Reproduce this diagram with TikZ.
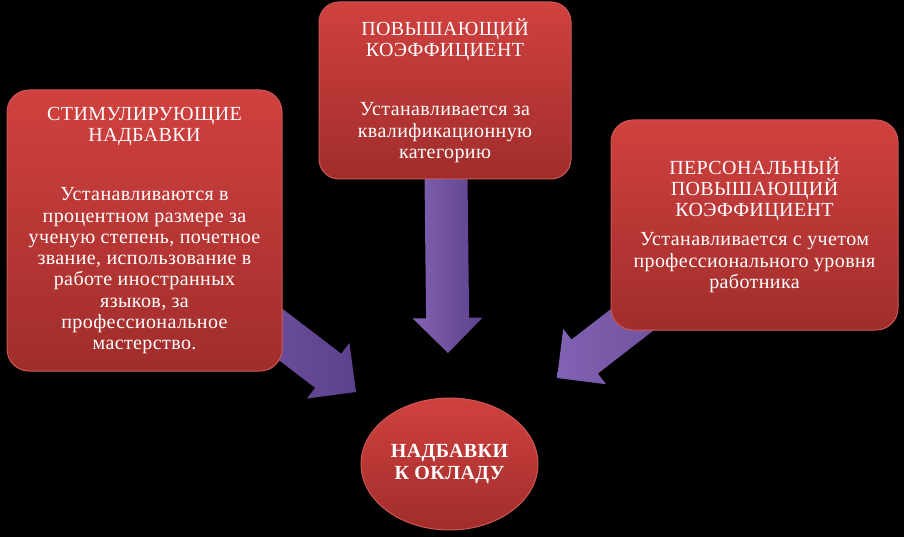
\documentclass[tikz,border=0pt]{standalone}
\usepackage{fontspec}
\setmainfont{Liberation Serif}[LetterSpace=2]
\usepackage{tikz}
\usetikzlibrary{calc,shapes.geometric}
\definecolor{boxtop}{HTML}{D0413F}
\definecolor{boxbot}{HTML}{A02D2B}
\definecolor{boxline}{HTML}{CC5754}
\definecolor{arrlight}{HTML}{8262B2}
\definecolor{arrdark}{HTML}{5C418C}
\tikzset{
  redbox/.style={draw=boxline, line width=1pt, top color=boxtop, bottom color=boxbot,
    rounded corners=22pt, inner sep=0pt, text=white, align=center,
    font=\fontsize{20}{21.3}\selectfont},
  redoval/.style={ellipse, draw=boxline, line width=1pt, top color=boxtop, bottom color=boxbot,
    inner sep=0pt, text=white, align=center, font=\bfseries\fontsize{20}{22}\selectfont},
  purplearrow/.style={left color=arrlight, right color=arrdark}
}
\newcommand{\blockarrow}[2]{%
  \coordinate (hb) at ($(#2)!35pt!(#1)$);
  \shade[purplearrow] ($(#1)!21.5pt!90:(#2)$) -- ($(hb)!21.5pt!90:(#2)$) -- ($(hb)!35pt!90:(#2)$)
    -- (#2) -- ($(hb)!35pt!-90:(#2)$) -- ($(hb)!21.5pt!-90:(#2)$) -- ($(#1)!21.5pt!-90:(#2)$) -- cycle;}

\begin{document}
\begin{tikzpicture}[x=1pt,y=-1pt]
  \fill[black] (0,0) rectangle (904,537);
  \useasboundingbox (0,0) rectangle (904,537);

  \coordinate (stimc) at (144.5,230.5);
  \coordinate (povc) at (445,90.5);
  \coordinate (persc) at (754.5,225);
  \coordinate (stimtip) at (356,392);
  \coordinate (povtip) at (448,353);
  \coordinate (perstip) at (557,378);

  \blockarrow{stimc}{stimtip}
  \blockarrow{povc}{povtip}
  \blockarrow{persc}{perstip}

  \node[redbox, minimum width=275pt, minimum height=281pt] (stim) at (stimc)
    {СТИМУЛИРУЮЩИЕ\\НАДБАВКИ\\[38pt]Устанавливаются в\\процентном размере за\\ученую степень, почетное\\звание, использование в\\работе иностранных\\языков, за\\профессиональное\\мастерство.};
  \node[redbox, rounded corners=20pt, minimum width=252pt, minimum height=177pt] (pov) at (povc)
    {ПОВЫШАЮЩИЙ\\КОЭФФИЦИЕНТ\\[38pt]Устанавливается за\\квалификационную\\категорию};
  \node[redbox, minimum width=287pt, minimum height=210pt] (pers) at (persc)
    {ПЕРСОНАЛЬНЫЙ\\ПОВЫШАЮЩИЙ\\КОЭФФИЦИЕНТ\\[8pt]Устанавливается с учетом\\профессионального уровня\\работника};
  \node[redoval, minimum width=177pt, minimum height=132pt] (nadb) at (449.5,464)
    {НАДБАВКИ\\К ОКЛАДУ};
\end{tikzpicture}
\end{document}
